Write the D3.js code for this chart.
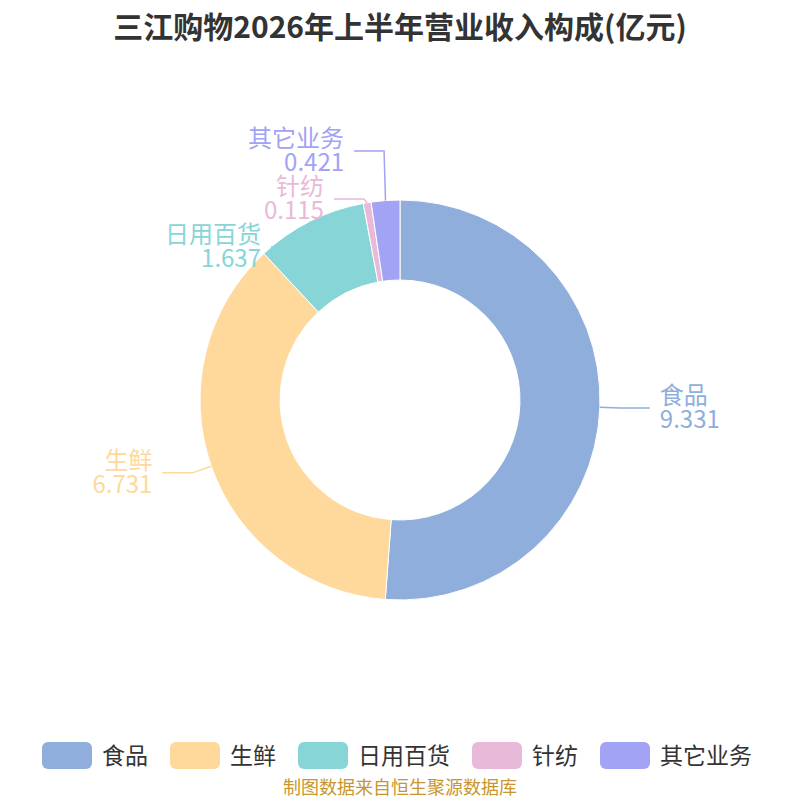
<!DOCTYPE html>
<html>
<head>
<meta charset="utf-8">
<script src="https://cdn.jsdelivr.net/npm/d3@7"></script>
<style>
  body { margin: 0; background: #fff; }
  text { font-family: "Noto Sans CJK SC", "Noto Sans", sans-serif; }
</style>
</head>
<body>
<div id="chart"></div>
<script>
// data
const categories = ["食品", "生鲜", "日用百货", "针纺", "其它业务"];
const values = [9.331, 6.731, 1.637, 0.115, 0.421];
const colors = ["#8FAEDB", "#FFD99B", "#88D5D8", "#E8B9D9", "#A2A3F4"];
const titleText = "三江购物2026年上半年营业收入构成(亿元)";
const sourceText = "制图数据来自恒生聚源数据库";

const width = 800, height = 800;
const cx = 400, cy = 400;
const outerR = 200, innerR = 120;
const len1 = 20, len2 = 30, labelGap = 48;

const svg = d3.select("#chart")
  .append("svg")
  .attr("width", width)
  .attr("height", height);

// title
svg.append("text")
  .attr("x", width / 2)
  .attr("y", 38)
  .attr("text-anchor", "middle")
  .style("font-size", "30px")
  .style("font-weight", "bold")
  .style("fill", "#333")
  .text(titleText);

const data = categories.map((c, i) => ({ name: c, value: values[i], color: colors[i] }));

const pie = d3.pie().sort(null).value((d) => d.value);
const arcs = pie(data);

const arc = d3.arc().innerRadius(innerR).outerRadius(outerR);

const g = svg.append("g").attr("transform", `translate(${cx},${cy})`);

g.selectAll("path")
  .data(arcs)
  .join("path")
  .attr("d", arc)
  .attr("fill", (d) => d.data.color)
  .attr("stroke", "#fff")
  .attr("stroke-width", 1);

// label anchor points
const labels = arcs.map((d) => {
  const a = (d.startAngle + d.endAngle) / 2;
  const p0 = [Math.sin(a) * outerR, -Math.cos(a) * outerR];
  const p1 = [Math.sin(a) * (outerR + len1), -Math.cos(a) * (outerR + len1)];
  return { d, a, p0, p1, y: p1[1], side: Math.sin(a) >= 0 ? 1 : -1 };
});

// push overlapping labels apart, then pull each cluster back a bit
function resolve(list) {
  list.sort((a, b) => a.y - b.y);
  let clusters = [];
  list.forEach((l) => {
    const last = clusters.length ? clusters[clusters.length - 1] : null;
    if (last && l.y - last[last.length - 1].y < labelGap) last.push(l);
    else clusters.push([l]);
  });
  clusters.forEach((cl) => {
    if (cl.length < 2) return;
    let total = 0;
    for (let i = 1; i < cl.length; i++) {
      const need = cl[i - 1].y + labelGap;
      if (cl[i].y < need) { total += need - cl[i].y; cl[i].y = need; }
    }
    const back = total / list.length;
    cl.forEach((l) => (l.y -= back));
  });
}
resolve(labels.filter((l) => l.side < 0));
resolve(labels.filter((l) => l.side > 0));

labels.forEach((l) => {
  const ex = l.p1[0];
  const elbow = [ex, l.y];
  const end = [ex + l.side * len2, l.y];
  const col = l.d.data.color;
  g.append("polyline")
    .attr("points", [l.p0, elbow, end].map((p) => p.join(",")).join(" "))
    .attr("fill", "none")
    .attr("stroke", col)
    .attr("stroke-width", 1.5);
  const tx = end[0] + l.side * 10;
  const anchor = l.side > 0 ? "start" : "end";
  // name and value as two lines of one text
  const label = g.append("text")
    .attr("x", tx)
    .attr("y", l.y - 4)
    .attr("text-anchor", anchor)
    .style("font-size", "24px")
    .style("fill", col);
  label.append("tspan").attr("x", tx).text(l.d.data.name);
  label.append("tspan").attr("x", tx).attr("dy", 24).text(l.d.data.value);
});

// legend
const legend = svg.append("g");
let lx = 0;
data.forEach((d) => {
  const item = legend.append("g").attr("transform", `translate(${lx},0)`);
  item.append("rect")
    .attr("x", 0).attr("y", 742)
    .attr("width", 50).attr("height", 27)
    .attr("rx", 6).attr("ry", 6)
    .attr("fill", d.color);
  const t = item.append("text")
    .attr("x", 60).attr("y", 764)
    .style("font-size", "23px")
    .style("fill", "#333")
    .text(d.name);
  lx += 60 + t.node().getComputedTextLength() + 22;
});
const legendW = lx - 22;
legend.attr("transform", `translate(${(width - legendW) / 2 - 3},0)`);

// source
svg.append("text")
  .attr("x", width / 2)
  .attr("y", 794)
  .attr("text-anchor", "middle")
  .style("font-size", "18px")
  .style("fill", "#C8962C")
  .text(sourceText);
</script>
</body>
</html>
